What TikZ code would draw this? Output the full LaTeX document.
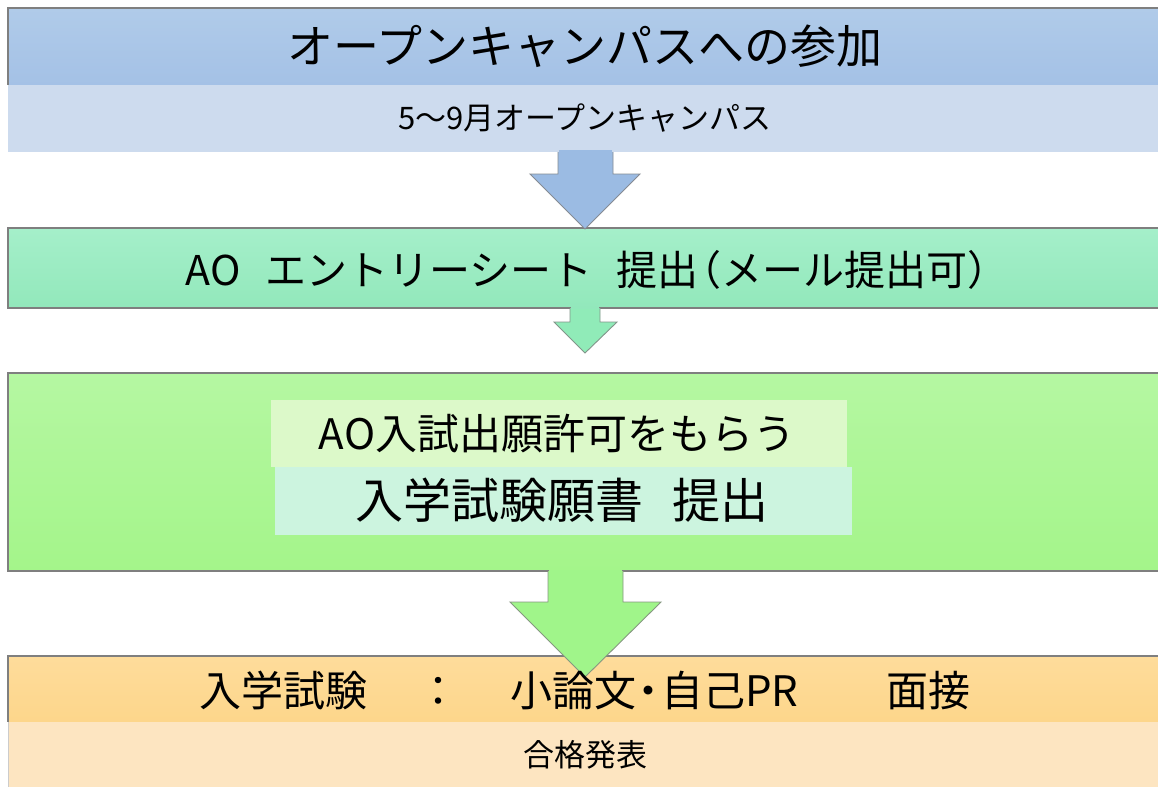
\documentclass[tikz,border=0pt]{standalone}
\usepackage{fontspec}
\newfontfamily\jp{Noto Sans CJK JP}
\definecolor{bTop}{HTML}{B0CBE9}
\definecolor{bBot}{HTML}{A4C1E6}
\definecolor{bLight}{HTML}{CDDBEE}
\definecolor{aBlue}{HTML}{9BBBE3}
\definecolor{gTop}{HTML}{A5EFCA}
\definecolor{gBot}{HTML}{92E8BB}
\definecolor{aMint}{HTML}{90EBB8}
\definecolor{lTop}{HTML}{B5F7A2}
\definecolor{lBot}{HTML}{A4F58A}
\definecolor{in1}{HTML}{DCF9C9}
\definecolor{in2}{HTML}{CCF4DF}
\definecolor{aLime}{HTML}{A0F58A}
\definecolor{oTop}{HTML}{FEDC9B}
\definecolor{oBot}{HTML}{FDD68B}
\definecolor{oLight}{HTML}{FDE5C1}
\definecolor{edgeC}{HTML}{7F7F7F}
\usetikzlibrary{calc}
\begin{document}
\begin{tikzpicture}[x=1pt,y=-1pt,
  txt/.style={text=black, inner sep=0pt, anchor=center},
  edge/.style={draw=edgeC, line width=1.2pt},
  barrow/.style={line width=0.9pt, draw=edgeC!80!#1, fill=#1, line join=miter},
]
\useasboundingbox (0,0) rectangle (1158,787);
\fill[white] (0,0) rectangle (1158,787);

% box 1
\shade[top color=bTop,bottom color=bBot] (8,8) rectangle (1158,85);
\fill[bLight] (8,85) rectangle (1158,152);
\draw[edge] (1160,8) -- (8,8) -- (8,85);
\node[txt, font=\jp\fontsize{46}{55}\selectfont] (t1) at (585,46) {オープンキャンパスへの参加};
\node[txt, font=\jp\fontsize{31}{38}\selectfont] (t2) at (585,118) {5〜9月オープンキャンパス};

% box 2
\shade[top color=gTop,bottom color=gBot] (8,228) rectangle (1158,308);
\draw[edge] (1160,228) -- (8,228) -- (8,308) -- (1160,308);
\node[txt, font=\jp\fontsize{41}{49}\selectfont] (t3) at (597,270) {AO\hspace{0.6em}エントリーシート\hspace{0.6em}提出\hspace{-0.45em}（メール提出可）\hspace{-0.45em}};

% box 3
\shade[top color=lTop,bottom color=lBot] (8,373) rectangle (1158,571);
\draw[edge] (1160,373) -- (8,373) -- (8,571) -- (1160,571);
\fill[in1] (271,400) rectangle (847,467);
\fill[in2] (275,467) rectangle (852,535);
\node[txt, font=\jp\fontsize{42}{50}\selectfont] (t4) at (557,434) {AO入試出願許可をもらう};
\node[txt, font=\jp\fontsize{48}{56}\selectfont] (t5) at (562,500) {入学試験願書\hspace{0.6em}提出};

% box 4
\shade[top color=oTop,bottom color=oBot] (8,656) rectangle (1158,722);
\fill[oLight] (8,722) rectangle (1158,787);
\draw[edge] (1160,656) -- (8,656) -- (8,722);
\draw[edgeC!40, line width=1pt] (8,722) -- (8,787);

% arrows
\filldraw[barrow=aBlue] (558,152) -- (558,174) -- (530,174) -- (585,229) -- (640,174) -- (613,174) -- (613,152);
\fill[aBlue] (559,150) rectangle (612,154);
\filldraw[barrow=aMint] (570,308) -- (570,322) -- (554,322) -- (585,353) -- (617,322) -- (600,322) -- (600,308);
\fill[gBot] (571,306) rectangle (599,310);
\fill[aMint] (571,309) rectangle (599,311);
\filldraw[barrow=aLime] (548,571) -- (548,602) -- (510,602) -- (585,677) -- (661,602) -- (623,602) -- (623,571);
\fill[aLime] (549,570) rectangle (622,572.5);

\node[txt, font=\jp\fontsize{42}{50}\selectfont] (t6) at (585,690) {入学試験\hspace{1.2em}：\hspace{1.2em}小論文\hspace{-0.2em}・\hspace{-0.2em}自己PR\hspace{2.1em}面接};
\node[txt, font=\jp\fontsize{31}{38}\selectfont] (t7) at (585,755) {合格発表};
\end{tikzpicture}
\end{document}
